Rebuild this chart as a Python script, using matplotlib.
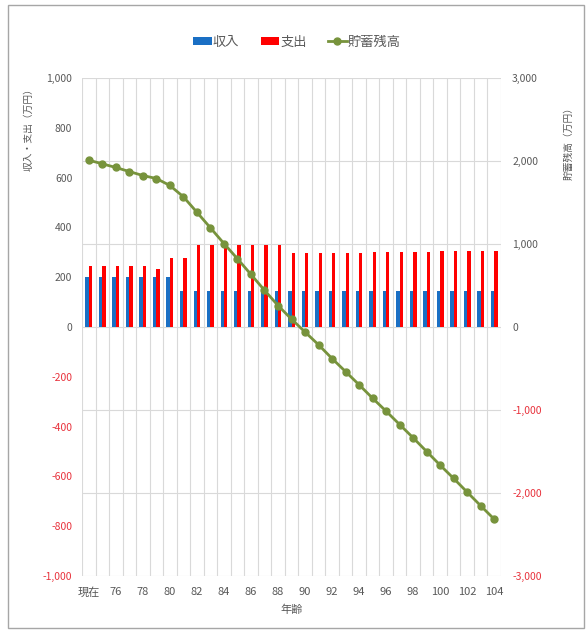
"""
Retirement cash-flow chart: yearly income / expenses (bars, left axis)
and remaining savings (line, right axis) by age.
"""

import numpy as np
import matplotlib
matplotlib.use("Agg")
import matplotlib.pyplot as plt
from matplotlib.patches import Patch, Rectangle
from matplotlib.lines import Line2D
from matplotlib.ticker import FuncFormatter

plt.rcParams["font.family"] = ["Noto Sans CJK JP", "DejaVu Sans"]

# ---- data (万円) ----
ages = ["現在", "75", "76", "77", "78", "79", "80", "81", "82", "83", "84",
        "85", "86", "87", "88", "89", "90", "91", "92", "93", "94",
        "95", "96", "97", "98", "99", "100", "101", "102", "103", "104"]
income = [200, 200, 200, 200, 200, 200, 200, 145, 145, 145, 145,
          145, 145, 145, 145, 145, 145, 145, 145, 145, 145,
          145, 145, 145, 145, 145, 145, 145, 145, 145, 145]
expense = [245, 245, 245, 245, 245, 233, 277, 277, 329, 329, 329,
           329, 329, 329, 329, 297, 298, 298, 298, 298, 298,
           302, 302, 302, 302, 302, 305, 305, 305, 305, 305]
savings = [2010, 1966, 1922, 1873, 1825, 1789, 1705, 1569, 1383, 1195, 1006,
           822, 633, 443, 259, 95, -60, -214, -380, -537, -696,
           -858, -1014, -1175, -1335, -1500, -1665, -1825, -1990, -2154, -2316]

left_ticks = [-1000, -800, -600, -400, -200, 0, 200, 400, 600, 800, 1000]
right_ticks = [-3000, -2000, -1000, 0, 1000, 2000, 3000]

BLUE = "#1a6fc4"
RED = "#ff0000"
GREEN = "#77933c"
GRAY_TXT = "#595959"
NEG_TXT = "#e8323c"
GRID = "#d9d9d9"


def fmt_num(v, _pos=None):
    return f"{int(round(v)):,}"


def color_neg_labels(axis_labels, values):
    for lab, v in zip(axis_labels, values):
        lab.set_color(NEG_TXT if v < 0 else GRAY_TXT)


fig = plt.figure(figsize=(5.87, 6.30), dpi=100)
ax = fig.add_axes([0.1397, 0.0857, 0.7138, 0.7905])
ax2 = ax.twinx()

x = np.arange(len(ages))
w = 0.25

# gridlines follow the secondary axis (1,000 steps)
for v in right_ticks:
    ax.axhline(v / 3, color=GRID, lw=0.8, zorder=0)
ax.set_xticks(np.arange(-0.5, len(ages)), minor=True)
ax.grid(which="minor", axis="x", color=GRID, lw=0.8, zorder=0)

ax.bar(x - w / 2, income, width=w, color=BLUE, zorder=2)
ax.bar(x + w / 2, expense, width=w, color=RED, zorder=2)

ax2.plot(x, savings, color=GREEN, lw=2.0, marker="o", markersize=5,
         markerfacecolor=GREEN, markeredgecolor=GREEN, zorder=3)

ax.set_xlim(-0.5, len(ages) - 0.5)
ax.set_ylim(-1000, 1000)
ax2.set_ylim(-3000, 3000)

ax.set_yticks(left_ticks)
ax.yaxis.set_major_formatter(FuncFormatter(fmt_num))
ax2.set_yticks(right_ticks)
ax2.yaxis.set_major_formatter(FuncFormatter(fmt_num))

ax.set_xticks(x[::2])
ax.set_xticklabels(ages[::2])

for a in (ax, ax2):
    for s in a.spines.values():
        s.set_visible(False)

ax.tick_params(axis="x", which="both", length=0, pad=8, labelsize=8, labelcolor=GRAY_TXT)
ax.tick_params(axis="y", length=0, pad=7, labelsize=7.5)
ax2.tick_params(axis="y", length=0, pad=8, labelsize=7.5)
color_neg_labels(ax.get_yticklabels(), left_ticks)
color_neg_labels(ax2.get_yticklabels(), right_ticks)

ax.set_xlabel("年齢", fontsize=8, color=GRAY_TXT, labelpad=5)
fig.text(0.048, 0.798, "収入・支出（万円）", rotation=90, fontsize=7,
         color=GRAY_TXT, ha="center", va="center")
fig.text(0.968, 0.776, "貯蓄残高（万円）", rotation=90, fontsize=7,
         color=GRAY_TXT, ha="center", va="center")

handles = [
    Patch(facecolor=BLUE, edgecolor="none"),
    Patch(facecolor=RED, edgecolor="none"),
    Line2D([], [], color=GREEN, lw=2.0, marker="o", markersize=5),
]
fig.legend(handles, ["収入", "支出", "貯蓄残高"], loc="center",
           bbox_to_anchor=(0.506, 0.933), ncol=3, frameon=False,
           fontsize=9.5, handlelength=1.4, handleheight=0.55,
           handletextpad=0.1, columnspacing=1.6, labelcolor=GRAY_TXT)

# outer chart border
fig.add_artist(Rectangle((0.0136, 0.003), 0.9813, 0.989, transform=fig.transFigure,
                         fill=False, edgecolor="#a6a6a6", lw=1.0))

fig.savefig("out.png", dpi=100)
